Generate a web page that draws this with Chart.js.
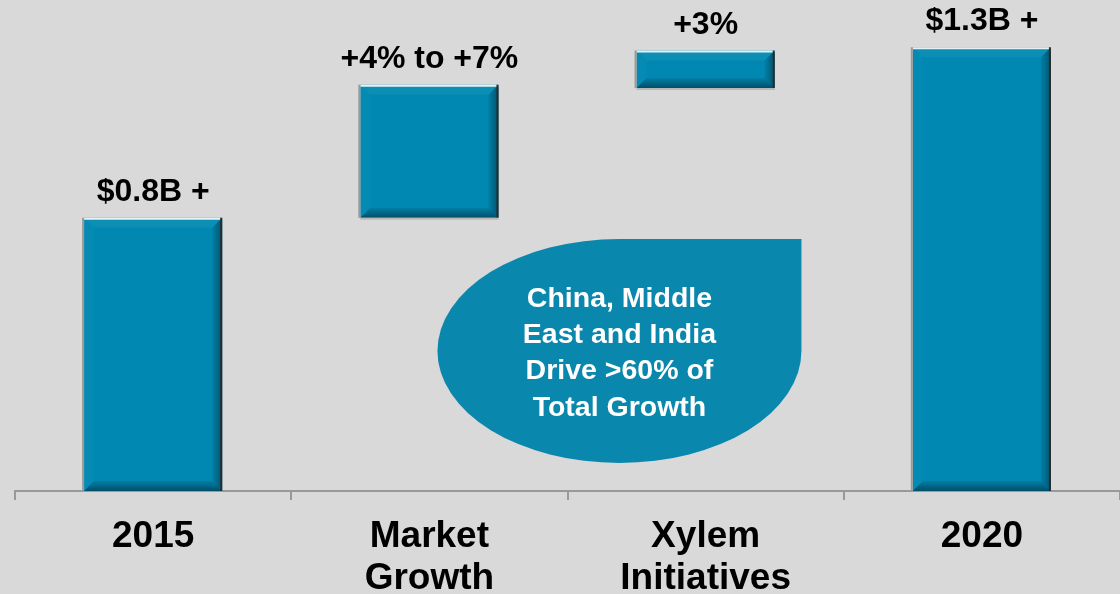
<!DOCTYPE html>
<html>
<head>
<meta charset="utf-8">
<title>Revenue bridge 2015 - 2020</title>
<script src="https://cdn.jsdelivr.net/npm/chart.js@4.4.1/dist/chart.umd.min.js"></script>
<style>
  html, body { margin: 0; padding: 0; background: #d9d9d9; overflow: hidden; }
  #wrap { width: 1120px; height: 594px; position: relative; }
</style>
</head>
<body>
<div id="wrap"><canvas id="chart" width="1120" height="594"></canvas></div>
<script>
// bridge steps: start, growth pieces, end (in $B)
const categories = [['2015'], ['Market', 'Growth'], ['Xylem', 'Initiatives'], ['2020']];
const barStart = [0, 0.8, 1.18, 0];
const barEnd = [0.8, 1.19, 1.29, 1.3];
const valueLabels = ['$0.8B +', '+4% to +7%', '+3%', '$1.3B +'];
const calloutLines = ['China, Middle', 'East and India', 'Drive >60% of', 'Total Growth'];

const FONT = "'Liberation Sans', Arial, Helvetica, sans-serif";
const BAR = '#0088b2';

function poly(ctx, pts, fill) {
  ctx.beginPath();
  ctx.moveTo(pts[0][0], pts[0][1]);
  for (let i = 1; i < pts.length; i++) ctx.lineTo(pts[i][0], pts[i][1]);
  ctx.closePath();
  ctx.fillStyle = fill;
  ctx.fill();
}

// bevelled look on each bar
const bevelPlugin = {
  id: 'bevel',
  afterDatasetsDraw(chart) {
    const ctx = chart.ctx;
    chart.getDatasetMeta(0).data.forEach((bar) => {
      const p = bar.getProps(['x', 'y', 'base', 'width'], true);
      const l = p.x - p.width / 2, r = p.x + p.width / 2;
      const t = Math.min(p.y, p.base), b = Math.max(p.y, p.base);
      const d = Math.min(10, (b - t) / 2.6);
      ctx.save();
      poly(ctx, [[l, t], [r, t], [r - d, t + d], [l + d, t + d]], 'rgba(255,255,255,0.05)');
      poly(ctx, [[l, t], [l + d, t + d], [l + d, b - d], [l, b]], 'rgba(255,255,255,0.02)');
      let g = ctx.createLinearGradient(r - d, 0, r, 0);
      g.addColorStop(0, 'rgba(0,20,30,0.08)');
      g.addColorStop(1, 'rgba(0,20,30,0.45)');
      poly(ctx, [[r, t], [r, b], [r - d, b - d], [r - d, t + d]], g);
      g = ctx.createLinearGradient(0, b - d, 0, b);
      g.addColorStop(0, 'rgba(0,20,30,0.08)');
      g.addColorStop(1, 'rgba(0,20,30,0.50)');
      poly(ctx, [[l, b], [r, b], [r - d, b - d], [l + d, b - d]], g);
      // edge lines
      ctx.lineWidth = 2;
      ctx.strokeStyle = '#e6f1f4';
      ctx.beginPath(); ctx.moveTo(l, t + 1); ctx.lineTo(r, t + 1); ctx.stroke();
      ctx.strokeStyle = '#9a9a9a';
      ctx.beginPath(); ctx.moveTo(l - 1, t); ctx.lineTo(l - 1, b); ctx.stroke();
      ctx.strokeStyle = '#2b2b2b';
      ctx.beginPath(); ctx.moveTo(r - 1, t); ctx.lineTo(r - 1, b); ctx.stroke();
      if (p.base < chart.chartArea.bottom - 1 || p.y > p.base) {
        ctx.strokeStyle = '#b8b8b8';
        ctx.beginPath(); ctx.moveTo(l, b + 1); ctx.lineTo(r, b + 1); ctx.stroke();
      }
      ctx.restore();
    });
  }
};

// value text above each bar
const valueLabelPlugin = {
  id: 'valueLabels',
  afterDatasetsDraw(chart) {
    const ctx = chart.ctx;
    ctx.save();
    ctx.font = 'bold 32px ' + FONT;
    ctx.fillStyle = '#000';
    ctx.textAlign = 'center';
    ctx.textBaseline = 'alphabetic';
    chart.getDatasetMeta(0).data.forEach((bar, i) => {
      const p = bar.getProps(['x', 'y', 'base'], true);
      ctx.fillText(valueLabels[i], p.x, Math.min(p.y, p.base) - 17);
    });
    ctx.restore();
  }
};

// drop-shaped callout with the regional note
const calloutPlugin = {
  id: 'callout',
  afterDraw(chart) {
    const ctx = chart.ctx;
    const a = chart.chartArea;
    const cx = a.left + a.width * 0.547;
    const cy = 351, rx = 182, ry = 112;
    ctx.save();
    ctx.beginPath();
    ctx.moveTo(cx + rx, cy);
    ctx.ellipse(cx, cy, rx, ry, 0, 0, Math.PI * 1.5);
    ctx.lineTo(cx + rx, cy - ry);
    ctx.closePath();
    ctx.fillStyle = '#0987ac';
    ctx.fill();
    ctx.font = 'bold 28.5px ' + FONT;
    ctx.fillStyle = '#fff';
    ctx.textAlign = 'center';
    ctx.textBaseline = 'middle';
    calloutLines.forEach((line, i) => {
      ctx.fillText(line, cx, 299 + i * 36.3);
    });
    ctx.restore();
  }
};

new Chart(document.getElementById('chart'), {
  type: 'bar',
  data: {
    labels: categories,
    datasets: [{
      data: barStart.map((s, i) => [s, barEnd[i]]),
      backgroundColor: BAR,
      borderWidth: 0,
      barPercentage: 0.5,
      categoryPercentage: 1
    }]
  },
  options: {
    responsive: false,
    devicePixelRatio: 1,
    animation: false,
    layout: { padding: { top: 13, left: 15, right: 0, bottom: 0 } },
    plugins: { legend: { display: false }, tooltip: { enabled: false } },
    scales: {
      x: {
        grid: {
          offset: true,
          drawOnChartArea: false,
          drawTicks: true,
          tickLength: 9,
          color: '#999',
          lineWidth: 2
        },
        border: { display: true, color: '#999', width: 2 },
        ticks: {
          color: '#000',
          padding: 16,
          maxRotation: 0,
          autoSkip: false,
          font: { family: FONT, size: 37, weight: 'bold', lineHeight: 1.14 }
        },
        afterFit(scale) { scale.height = 103; }
      },
      y: {
        display: false,
        min: 0,
        max: 1.4
      }
    }
  },
  plugins: [bevelPlugin, valueLabelPlugin, calloutPlugin]
});
</script>
</body>
</html>
